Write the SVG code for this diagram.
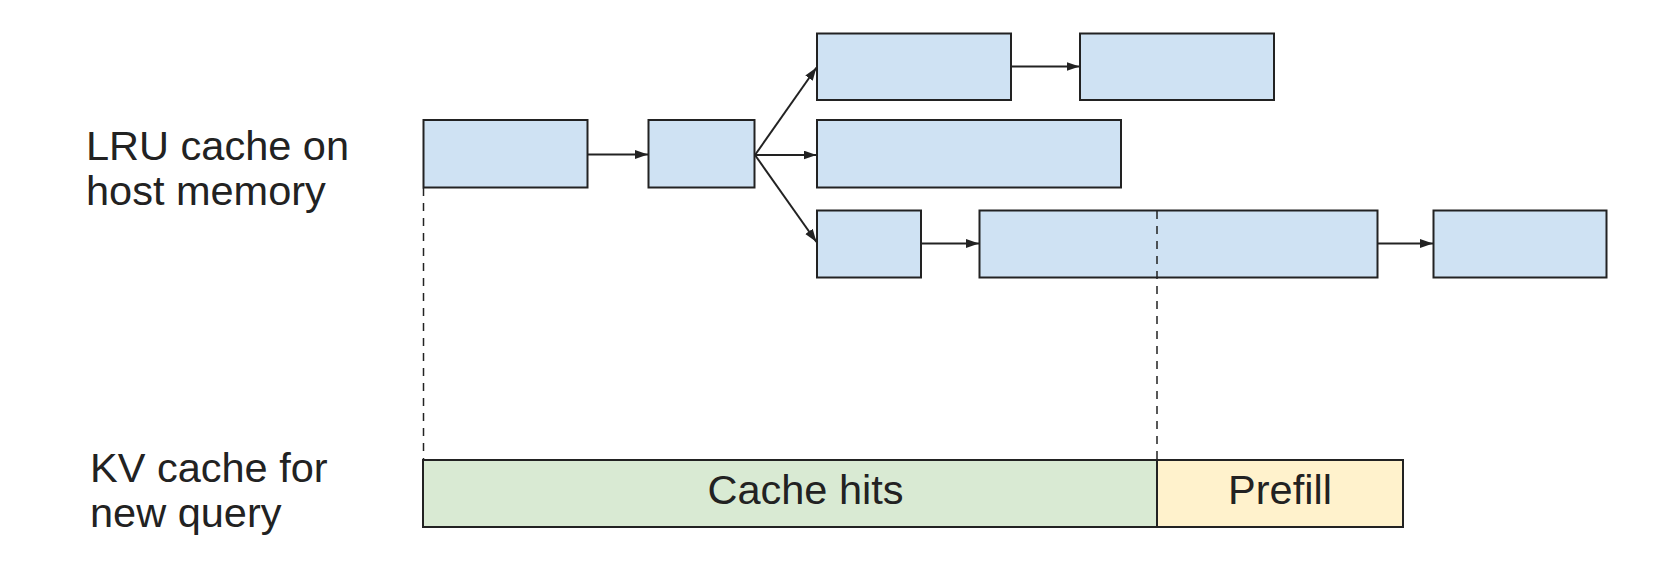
<svg xmlns="http://www.w3.org/2000/svg" width="1672" height="588" viewBox="0 0 1672 588">
<defs>
<style>
.blk{fill:#cfe2f3;stroke:#222;stroke-width:2}
.hit{fill:#d9ead3;stroke:#222;stroke-width:2}
.pre{fill:#fff2cc;stroke:#222;stroke-width:2}
.arr{fill:none;stroke:#222;stroke-width:2;marker-end:url(#ah)}
.dash{fill:none;stroke:#222;stroke-width:1.5;stroke-dasharray:8 7}
.lbl{font-family:"Liberation Sans",Arial,sans-serif;font-size:41.5px;fill:#222}
.mid{text-anchor:middle}
</style>
<marker id="ah" markerUnits="userSpaceOnUse" markerWidth="14" markerHeight="10" refX="13" refY="4.5" orient="auto">
<path d="M0,0 L13,4.5 L0,9 z" fill="#222"/>
</marker>
</defs>
<rect width="1672" height="588" fill="#fff"/>
<g id="label-lru">
<text class="lbl" x="86" y="160">LRU cache on</text>
<text class="lbl" x="86" y="205">host memory</text>
</g>
<g id="label-kv">
<text class="lbl" x="90" y="482">KV cache for</text>
<text class="lbl" x="90" y="527">new query</text>
</g>
<g id="n1"><rect class="blk" x="423.5" y="120" width="164" height="67.5"/></g>
<g id="n2"><rect class="blk" x="648.5" y="120" width="106" height="67.5"/></g>
<g id="n3"><rect class="blk" x="817" y="33.5" width="194" height="66.5"/></g>
<g id="n4"><rect class="blk" x="1080" y="33.5" width="194" height="66.5"/></g>
<g id="n5"><rect class="blk" x="817" y="120" width="304" height="67.5"/></g>
<g id="n6"><rect class="blk" x="817" y="210.5" width="104" height="67"/></g>
<g id="n7"><rect class="blk" x="979.5" y="210.5" width="398" height="67"/></g>
<g id="n8"><rect class="blk" x="1433.5" y="210.5" width="173" height="67"/></g>
<g id="cache-hits"><rect class="hit" x="423" y="460" width="734" height="67"/><text class="lbl mid" x="805.5" y="504">Cache hits</text></g>
<g id="prefill"><rect class="pre" x="1157" y="460" width="246" height="67"/><text class="lbl mid" x="1280" y="504">Prefill</text></g>
<g id="connectors">
<line class="arr" x1="587.5" y1="154.5" x2="648" y2="154.5"/>
<line class="arr" x1="755" y1="155" x2="816.5" y2="67.5"/>
<line class="arr" x1="755" y1="155" x2="816.5" y2="155"/>
<line class="arr" x1="755" y1="155" x2="816.5" y2="242"/>
<line class="arr" x1="1011" y1="66.5" x2="1079.5" y2="66.5"/>
<line class="arr" x1="921" y1="243.5" x2="979" y2="243.5"/>
<line class="arr" x1="1377.5" y1="243.5" x2="1433" y2="243.5"/>
<line class="dash" x1="423.5" y1="188" x2="423.5" y2="460"/>
<line class="dash" x1="1157" y1="211" x2="1157" y2="460"/>
</g>
</svg>
